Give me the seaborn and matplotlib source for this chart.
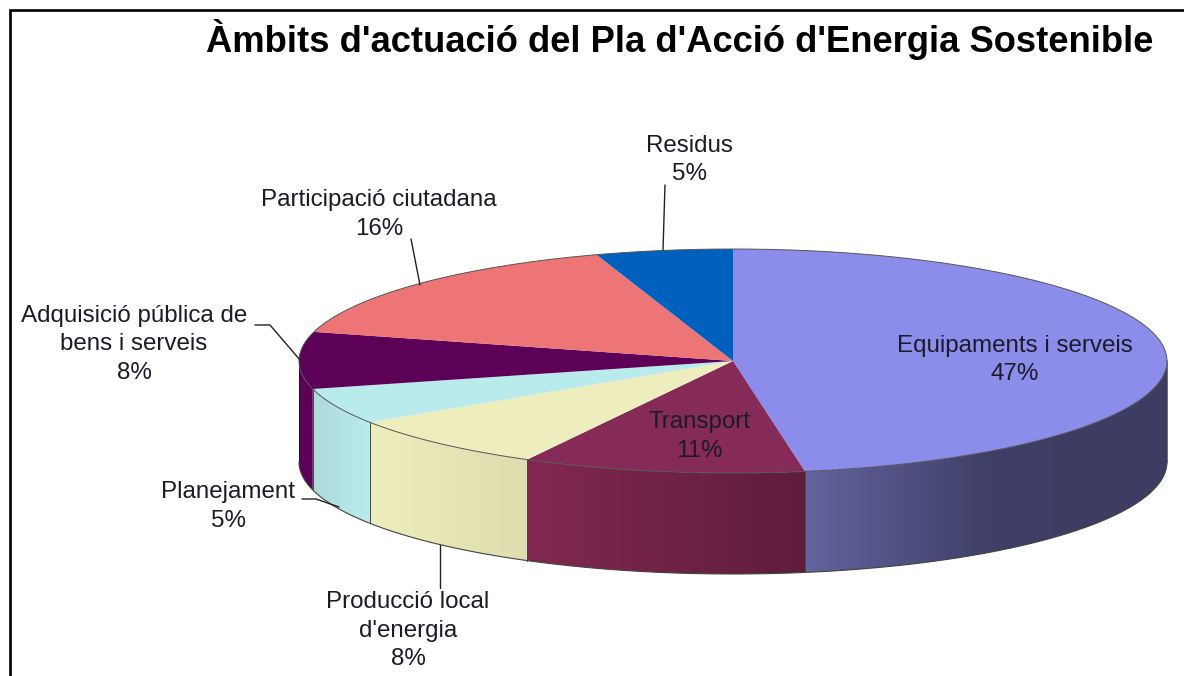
import numpy as np
import matplotlib
matplotlib.use("Agg")
import matplotlib.pyplot as plt
from matplotlib.colors import LinearSegmentedColormap
from matplotlib.lines import Line2D
from matplotlib.patches import Polygon
import seaborn as sns

# ---- data ----
categories = ["Equipaments i serveis", "Transport", "Producció local\nd'energia", "Planejament",
              "Adquisició pública de\nbens i serveis", "Participació ciutadana", "Residus"]
values = [47.3, 10.51, 7.9, 5.2, 8.2, 15.7, 5.09]
top_colors = ["#8C8CEB", "#862B57", "#EEEDBD", "#BAEBEC", "#5C0058", "#EE7575", "#0060BE"]
side_stops = [
    [(0.0, "#63639F"), (0.53, "#3E3E66"), (1.0, "#3D3D63")],
    [(0.0, "#82284F"), (1.0, "#5E1D3B")],
    [(0.0, "#EEEDBD"), (1.0, "#DEDDAF")],
    [(0.0, "#AEDADC"), (1.0, "#BAEBEC")],
    [(0.0, "#5C0058"), (1.0, "#5C0058")],
    [(0.0, "#EE7575"), (1.0, "#EE7575")],
    [(0.0, "#0060BE"), (1.0, "#0060BE")],
]
title = "Àmbits d'actuació del Pla d'Acció d'Energia Sostenible"

# ---- layout (pixels of the 1184x676 canvas) ----
W, H = 1184, 676
CX, CY, RX, RY, DEPTH = 733, 361, 434, 112, 101
label_centres = [(1015, 360), (699, 436.5), (408, 630.5), (228, 506.5), (134, 344.5), (379, 214.5), (689, 160)]
leaders = [
    [(665, 185), (663, 250)],
    [(411, 239), (420, 285)],
    [(255, 325), (270, 325), (300, 360)],
    [(302, 499), (316, 499), (339, 507)],
    [(440, 545), (440, 588)],
]

sns.set_theme(style="white")
plt.rcParams["font.family"] = ["Liberation Sans", "DejaVu Sans"]

fig = plt.figure(figsize=(W / 100, H / 100), dpi=100, facecolor="white")
ax = fig.add_axes([0, 0, 1, 1])


def px(x, y):
    return (x - CX) / RX, (CY - y) / RY


palette = sns.color_palette(top_colors)
ax.pie(values, colors=palette, startangle=90, counterclock=False, radius=1,
       wedgeprops=dict(linewidth=0, zorder=3))

h = DEPTH / RY
edges = 90 - np.cumsum([0] + values) / np.sum(values) * 360

# sides of the disc, only the part facing the viewer
for i in range(len(values)):
    t_hi, t_lo = edges[i], edges[i + 1]
    a = max(t_lo, -180)
    b = min(t_hi, 0)
    if a >= b:
        continue
    t = np.radians(np.linspace(a, b, 120))
    x = np.cos(t)
    y = np.sin(t)
    poly = np.column_stack([np.r_[x, x[::-1]], np.r_[y, y[::-1] - h]])
    cmap = LinearSegmentedColormap.from_list(f"s{i}", side_stops[i])
    grad = np.linspace(0, 1, 256).reshape(1, -1)
    im = ax.imshow(grad, cmap=cmap, vmin=0, vmax=1, aspect="auto", zorder=2,
                   extent=(x.min(), x.max(), y.min() - h, y.max()), interpolation="bilinear")
    patch = Polygon(poly, closed=True, transform=ax.transData, facecolor="none", edgecolor="none")
    ax.add_patch(patch)
    im.set_clip_path(patch)
    for tv in (a, b):
        if -180 < tv < 0:
            xv, yv = np.cos(np.radians(tv)), np.sin(np.radians(tv))
            ax.plot([xv, xv], [yv, yv - h], color="#4a4a4a", lw=0.7, zorder=4)

# rims
tt = np.radians(np.linspace(0, 360, 721))
ax.plot(np.cos(tt), np.sin(tt), color="#555555", lw=0.7, zorder=5)
tb = np.radians(np.linspace(-180, 0, 361))
ax.plot(np.cos(tb), np.sin(tb) - h, color="#444444", lw=0.8, zorder=5)
ax.plot([1, 1], [0, -h], color="#555555", lw=0.6, zorder=4)
ax.plot([-1, -1], [0, -h], color="#3a003a", lw=0.6, zorder=4)

# leader lines
for pts in leaders:
    xy = np.array([px(*p) for p in pts])
    ax.plot(xy[:, 0], xy[:, 1], color="#222222", lw=1.0, zorder=6)

# labels
for name, val, (lx, ly) in zip(categories, values, label_centres):
    xt, yt = px(lx, ly)
    ax.text(xt, yt, f"{name}\n{round(val)}%", ha="center", va="center", multialignment="center",
            fontsize=17.4, color="#1b1b2b", linespacing=1.4, zorder=7)

# title
xt, yt = px(680, 40)
ax.text(xt, yt, title, ha="center", va="center", fontsize=26.2, fontweight="bold", color="black", zorder=7)

# frame: only top and left are inside the crop
fig.add_artist(Line2D([9.6 / W, 9.6 / W, 1], [0, 1 - 10.4 / H, 1 - 10.4 / H], color="black",
                      lw=1.9, solid_joinstyle="miter"))

ax.set_aspect("auto")
ax.set_xlim((0 - CX) / RX, (W - CX) / RX)
ax.set_ylim((CY - H) / RY, CY / RY)
ax.axis("off")
fig.savefig("out.png", dpi=100, facecolor="white")
